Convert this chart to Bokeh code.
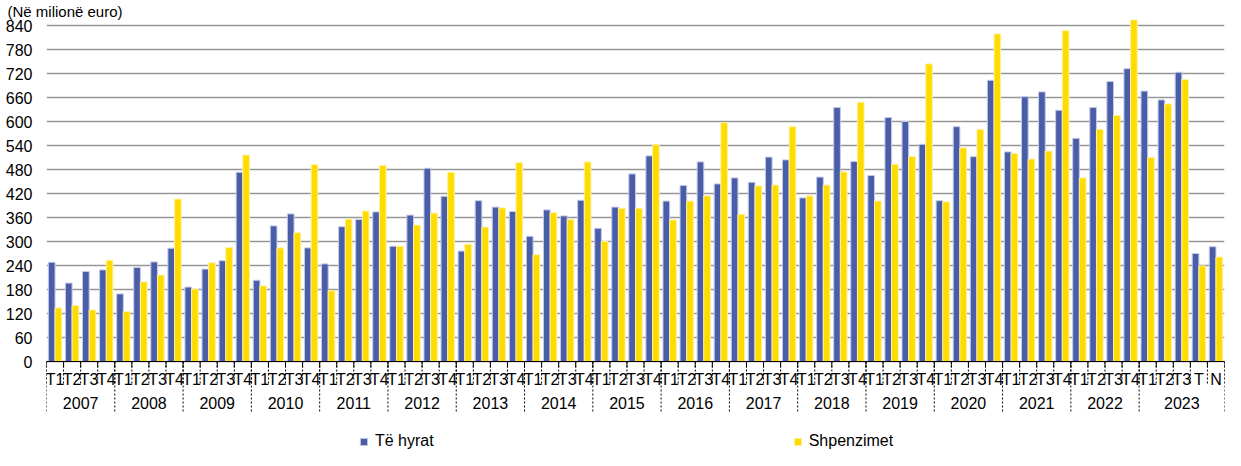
from bokeh.plotting import figure
from bokeh.models import (Range1d, FixedTicker, Legend, LegendItem, ColumnDataSource)
from bokeh.transform import dodge
from bokeh.core.properties import value
from bokeh.embed import file_html
from bokeh.resources import INLINE

# ---------------- data ----------------
years = [str(y) for y in range(2007, 2024)]
periods_per_year = [4] * 16 + [5]
period_labels = ["T1", "T2", "T3", "T4"] * 16 + ["T1", "T2", "T3", "T", "N"]

te_hyrat = [
    248, 196, 225, 229,   # 2007
    169, 235, 249, 283,   # 2008
    186, 231, 252, 473,   # 2009
    203, 339, 369, 284,   # 2010
    244, 337, 355, 374,   # 2011
    288, 366, 483, 413,   # 2012
    276, 402, 386, 375,   # 2013
    313, 379, 364, 403,   # 2014
    333, 386, 469, 514,   # 2015
    401, 440, 499, 444,   # 2016
    459, 448, 511, 504,   # 2017
    409, 461, 635, 500,   # 2018
    465, 610, 600, 543,   # 2019
    402, 587, 512, 703,   # 2020
    524, 662, 674, 628,   # 2021
    558, 635, 700, 732,   # 2022
    676, 654, 723, 270, 287,  # 2023 + T, N
]
shpenzimet = [
    134, 140, 129, 253,
    125, 199, 216, 406,
    181, 247, 285, 516,
    189, 284, 322, 492,
    177, 356, 376, 490,
    288, 341, 371, 473,
    293, 336, 384, 497,
    267, 372, 355, 499,
    300, 383, 383, 542,
    354, 401, 414, 597,
    368, 439, 441, 587,
    414, 441, 474, 648,
    401, 493, 512, 744,
    399, 534, 580, 819,
    520, 506, 526, 827,
    459, 580, 615, 854,
    510, 644, 705, 239, 261,
]
y_ticks = list(range(0, 841, 60))
unit_label = "(Në milionë euro)"
series_names = ["Të hyrat", "Shpenzimet"]

# ---------------- layout helpers ----------------
n = len(period_labels)
centers = [i + 0.5 for i in range(n)]
year_bounds = [0]
for c in periods_per_year:
    year_bounds.append(year_bounds[-1] + c)
year_centers = [(a + b) / 2 for a, b in zip(year_bounds[:-1], year_bounds[1:])]

FONT = "Liberation Sans"
BLUE = "#4a5da8"
YELLOW = "#ffdc00"

W, H = 1225, 450
TOP = 19                 # frame top (below the unit title)
Y0_PX, Y840_PX = 361, 25  # canvas rows of value 0 and 840
k = (Y0_PX - Y840_PX) / 840.0
y_max = 840 + (Y840_PX - TOP) / k
y_min = -(H - Y0_PX) / k


def below(px):           # data y for a canvas row below the axis
    return -(px - Y0_PX) / k


src = ColumnDataSource(dict(x=centers, hyrat=te_hyrat, shp=shpenzimet))

p = figure(width=W, height=H, output_backend="svg", toolbar_location=None,
           x_range=Range1d(0, n), y_range=Range1d(y_min, y_max),
           x_axis_location=None,
           min_border_left=46, min_border_right=1, min_border_top=TOP,
           min_border_bottom=0)
p.outline_line_color = None
p.background_fill_color = "white"
p.border_fill_color = "white"

# title = unit label
p.title.text = unit_label
p.title.align = "left"
p.title.offset = -39
p.title.standoff = 0
p.title.text_font = FONT
p.title.text_font_size = "15px"
p.title.text_font_style = "normal"
p.title.text_color = "black"

# grid
p.xgrid.visible = False
p.ygrid.ticker = FixedTicker(ticks=y_ticks)
p.ygrid.grid_line_color = "#969696"
p.ygrid.grid_line_width = 1.3

# bars
r1 = p.vbar(x=dodge("x", -0.195, range=p.x_range), top="hyrat", width=0.39,
            source=src, fill_color=BLUE, line_color="#c3c9e6", line_width=1)
r2 = p.vbar(x=dodge("x", 0.195, range=p.x_range), top="shp", width=0.39,
            source=src, fill_color=YELLOW, line_color="#fff0a0", line_width=1)

# y axis
ya = p.yaxis[0]
ya.ticker = FixedTicker(ticks=y_ticks)
ya.axis_line_color = None
ya.major_tick_line_color = None
ya.minor_tick_line_color = None
ya.major_tick_out = 0
ya.major_tick_in = 0
ya.major_label_standoff = 14
ya.major_label_text_font = FONT
ya.major_label_text_font_size = "16px"
ya.major_label_text_color = "black"

# category axis drawn in the frame below zero
p.segment(x0=[0], y0=[0], x1=[n], y1=[0], line_color="black", line_width=1)
bounds = list(range(n + 1))
p.segment(x0=bounds, y0=[0] * len(bounds), x1=bounds, y1=[below(384)] * len(bounds),
          line_color="black", line_width=1, line_dash="2 2")
p.segment(x0=bounds, y0=[0] * len(bounds), x1=bounds, y1=[below(367)] * len(bounds),
          line_color="black", line_width=1)
p.segment(x0=year_bounds, y0=[0] * len(year_bounds), x1=year_bounds,
          y1=[below(412)] * len(year_bounds),
          line_color="black", line_width=1, line_dash="2 2")

p.text(x=centers, y=[below(379)] * n, text=period_labels,
       text_font=value(FONT), text_font_size="16px", text_color="black",
       text_align="center", text_baseline="middle")
p.text(x=year_centers, y=[below(402)] * len(years), text=years,
       text_font=value(FONT), text_font_size="16px", text_color="black",
       text_align="center", text_baseline="middle")

# legend
legend = Legend(items=[LegendItem(label=series_names[0], renderers=[r1]),
                       LegendItem(label=series_names[1], renderers=[r2])],
                orientation="horizontal", location=(313, 0),
                glyph_width=9, glyph_height=9, label_standoff=7, spacing=359,
                padding=0, margin=0, border_line_color=None,
                background_fill_alpha=0,
                label_text_font=FONT, label_text_font_size="16px",
                label_text_color="black")
p.add_layout(legend)

open("out.html", "w").write(file_html(p, INLINE))
